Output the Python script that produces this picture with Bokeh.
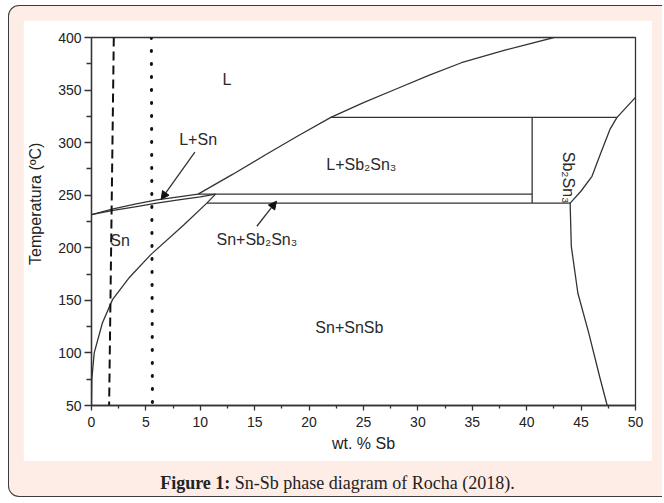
from bokeh.plotting import figure
from bokeh.models import Range1d, Arrow, NormalHead, Div, FixedTicker, ColumnDataSource
from bokeh.layouts import column
from bokeh.embed import file_html
from bokeh.resources import INLINE
from bokeh.core.properties import value

# ---------------- data (wt. % Sb, temperature) ----------------
x_ticks = [0, 5, 10, 15, 20, 25, 30, 35, 40, 45, 50]
x_minor = [2.5, 7.5, 12.5, 17.5, 22.5, 27.5, 32.5, 37.5, 42.5, 47.5]
y_ticks = [50, 100, 150, 200, 250, 300, 350, 400]
y_minor = [75, 125, 175, 225, 275, 325, 375]

# liquidus above the peritectic point
liq_x = [9.8, 13, 16, 19, 22, 25, 28, 31, 34, 38, 42.5, 43]
liq_y = [251, 270, 288.5, 306.5, 324, 338, 351, 364, 376, 388, 400, 402]

# L+Sn lens (upper and lower boundaries)
lens_up_x = [0, 2, 4, 6, 8, 9.8]
lens_up_y = [231.5, 237, 241.5, 245.5, 248.5, 251]
lens_lo_x = [0, 2, 4, 6, 8, 10, 11.4]
lens_lo_y = [231.5, 235.5, 239, 242.5, 245.5, 248.5, 251]

# Sn solvus
solv_x = [11.4, 10.6, 8.5, 5.45, 3.5, 1.93, 1.0, 0.25, 0.03, 0]
solv_y = [251, 242.5, 222, 193.5, 172, 150.7, 128.5, 100, 75, 50]

# horizontal invariant lines
h1_x = [22, 48.3];  h1_y = [324, 324]
h2_x = [9.8, 40.5]; h2_y = [251, 251]
h3_x = [10.6, 44.0]; h3_y = [242.5, 242.5]
v1_x = [40.5, 40.5]; v1_y = [242.5, 324]

# Sb2Sn3 right boundary and extension
sb_r_x = [44.0, 45.0, 46.0, 46.8, 47.65, 48.3, 50]
sb_r_y = [242.5, 254, 268, 290, 312.6, 324, 343]
# Sn+SnSb / SnSb boundary
sb_l_x = [44.0, 44.0, 44.1, 44.7, 45.7, 46.7, 47.4]
sb_l_y = [242.5, 239.5, 201.4, 157, 119, 77.6, 50]

# composition lines of the alloys
dash_x = [2.05, 1.62]; dash_y = [400, 50]
dot_x = [5.5, 5.6];    dot_y = [400, 50]

# region labels
lab_text = ["L", "L+Sn", "Sn", "L+Sb\u2082Sn\u2083", "Sn+Sb\u2082Sn\u2083", "Sn+SnSb"]
lab_x = [12.45, 9.8, 2.63, 24.8, 15.2, 23.7]
lab_y = [360.5, 302.8, 206.8, 279, 207.6, 124]
rot_text = ["Sb\u2082Sn\u2083"]
rot_x = [43.8]
rot_y = [266.7]

# arrows: (start) -> (end)
arr_x0 = [9.5, 15.2]
arr_y0 = [291, 220.5]
arr_x1 = [6.4, 17.0]
arr_y1 = [246, 244.3]

LC = "#333333"
LW = 1.3
FONT = "Liberation Sans"

p = figure(width=629, height=441, output_backend="svg", toolbar_location=None,
           x_range=Range1d(0, 50), y_range=Range1d(50, 400),
           min_border_left=68, min_border_right=17, min_border_top=17,
           min_border_bottom=56, background_fill_color="white",
           border_fill_color="white", margin=(14, 0, 0, 14))
p.grid.visible = False
p.outline_line_color = LC
p.outline_line_width = LW

p.xaxis.ticker = FixedTicker(ticks=x_ticks, minor_ticks=x_minor)
p.yaxis.ticker = FixedTicker(ticks=y_ticks, minor_ticks=y_minor)
for ax in (p.xaxis, p.yaxis):
    ax.axis_line_color = LC
    ax.axis_line_width = LW
    ax.major_tick_line_color = LC
    ax.minor_tick_line_color = LC
    ax.major_tick_line_width = LW
    ax.minor_tick_line_width = LW
    ax.major_tick_in = 0
    ax.minor_tick_in = 0
    ax.major_label_text_font = FONT
    ax.major_label_text_font_size = "14px"
    ax.major_label_text_color = "#222222"
    ax.axis_label_text_font = FONT
    ax.axis_label_text_font_style = "normal"
    ax.axis_label_text_color = "#222222"
    ax.axis_label_text_font_size = "16px"
p.xaxis.major_tick_out = 5
p.xaxis.minor_tick_out = 3
p.xaxis.major_label_standoff = 6
p.xaxis.axis_label = "wt. % Sb"
p.xaxis.axis_label_standoff = 5
p.yaxis.major_tick_out = 7
p.yaxis.minor_tick_out = 5
p.yaxis.major_label_standoff = 3
p.yaxis.axis_label = "\u00a0" * 8 + "Temperatura (\u00baC)"
p.yaxis.axis_label_standoff = 11

for xs, ys in [(liq_x, liq_y), (lens_up_x, lens_up_y), (lens_lo_x, lens_lo_y),
               (solv_x, solv_y), (h1_x, h1_y), (h2_x, h2_y), (h3_x, h3_y),
               (v1_x, v1_y), (sb_r_x, sb_r_y), (sb_l_x, sb_l_y)]:
    p.line(xs, ys, line_color=LC, line_width=LW)

p.line(dash_x, dash_y, line_color="#111111", line_width=2, line_dash="9 5")
p.line(dot_x, dot_y, line_color="#111111", line_width=3, line_dash="1 12",
       line_cap="round")

src = ColumnDataSource(dict(x=lab_x, y=lab_y, t=lab_text))
p.text("x", "y", text="t", source=src, text_font=value(FONT),
       text_font_size="16px", text_color="#2a2a2a", text_align="center",
       text_baseline="middle")
rsrc = ColumnDataSource(dict(x=rot_x, y=rot_y, t=rot_text))
p.text("x", "y", text="t", source=rsrc, text_font=value(FONT),
       text_font_size="16px", text_color="#2a2a2a", text_align="center",
       text_baseline="middle", angle=-1.5708)

for i in range(len(arr_x0)):
    p.add_layout(Arrow(end=NormalHead(size=8, fill_color="#111111",
                                      line_color="#111111", line_width=1),
                       x_start=arr_x0[i], y_start=arr_y0[i],
                       x_end=arr_x1[i], y_end=arr_y1[i],
                       line_color=LC, line_width=LW))

cap = Div(text="<b>Figure 1:</b> Sn-Sb phase diagram of Rocha (2018).",
          width=629, height=22, margin=(12, 0, 0, 14),
          styles={"font-family": "Liberation Serif", "font-size": "18px",
                  "text-align": "center", "color": "#222222",
                  "line-height": "20px"})

layout = column(p, cap, width=654, height=492,
                styles={"background-color": "#FDEDE6",
                        "border": "1.5px solid #3c3c3c",
                        "border-right": "none",
                        "border-radius": "11px 0 0 11px",
                        "margin-top": "5px", "margin-left": "8px"})

open("out.html", "w").write(file_html(layout, INLINE))
